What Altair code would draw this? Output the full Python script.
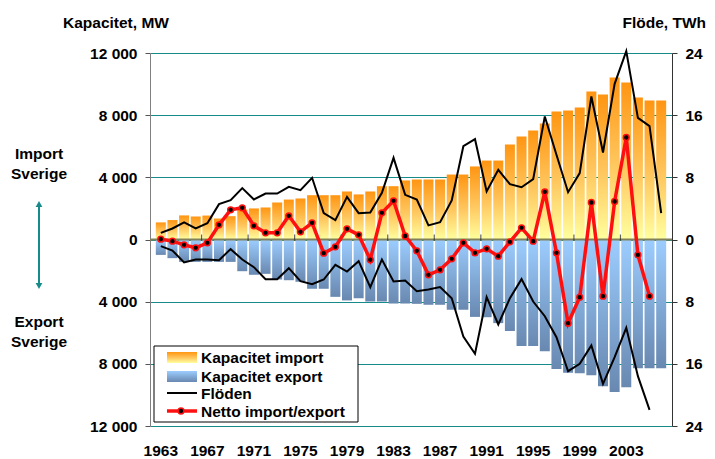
import altair as alt
import pandas as pd

FONT = "Liberation Sans"

years = list(range(1963, 2007))

# Capacity (MW)
cap_import = [1100, 1250, 1550, 1480, 1540, 1350, 1500, 1930, 2000, 2060,
              2380, 2570, 2640, 2850, 2850, 2850, 3090, 2900, 3090, 3430,
              3430, 3800, 3860, 3860, 3860, 4180, 4180, 4700, 5080, 5080,
              6110, 6630, 7010, 7460, 8240, 8300, 8490, 9520, 9330, 10420,
              10100, 9140, 8940, 8940]
cap_export = [990, 1200, 1440, 1440, 1440, 1440, 1440, 2040, 2270, 2210,
              2570, 2620, 2720, 3170, 3170, 3690, 3920, 3780, 3990, 3990,
              4120, 4120, 4140, 4200, 4200, 4520, 4520, 4980, 5000, 5380,
              5880, 6860, 6860, 7190, 8340, 8580, 8600, 8730, 9440, 9820,
              9500, 8280, 8280, 8280]

# Flows (TWh)
flow_import = [0.86, 1.42, 2.19, 1.42, 2.10, 4.55, 5.06, 6.61, 5.15, 5.92,
               5.92, 6.78, 6.35, 7.94, 3.39, 2.49, 5.49, 3.39, 3.47, 6.01,
               10.51, 5.75, 5.15, 1.82, 2.23, 5.02, 12.01, 12.91, 6.18, 8.97,
               7.12, 6.73, 7.76, 15.83, 10.90, 6.09, 8.54, 18.40, 11.20, 20.03,
               24.24, 15.66, 14.59, 3.39]
flow_export = [0.86, 1.42, 2.96, 2.57, 2.57, 2.66, 1.24, 2.57, 3.56, 5.10,
               5.10, 3.69, 5.36, 5.75, 5.15, 3.26, 4.12, 2.79, 6.13, 2.57,
               5.41, 5.28, 6.65, 6.44, 6.13, 7.55, 12.48, 14.71, 7.42, 10.94,
               7.55, 5.10, 7.98, 9.87, 12.57, 16.95, 16.00, 13.64, 18.57, 15.14,
               11.37, 17.59, 21.92, None]
net_flow = [0.04, -0.21, -0.69, -1.07, -0.43, 1.89, 3.82, 4.08, 1.76, 0.86,
            0.86, 3.05, 0.99, 2.15, -1.76, -0.94, 1.37, 0.60, -2.61, 3.43,
            4.98, 0.45, -1.46, -4.55, -3.90, -2.49, -0.43, -1.72, -1.20, -2.15,
            -0.30, 1.50, -0.21, 6.13, -1.72, -10.77, -7.42, 4.76, -7.29, 4.89,
            13.13, -1.97, -7.29, None]

label_years = list(range(1963, 2004, 4))
tick_bounds = [y - 0.5 for y in label_years[1:]]
mw_ticks = [-12000, -8000, -4000, 0, 4000, 8000, 12000]
twh_ticks = [-24, -16, -8, 0, 8, 16, 24]
legend_labels = ["Kapacitet import", "Kapacitet export", "Flöden", "Netto import/export"]

df = pd.DataFrame({
    "year": years,
    "cap_import": cap_import,
    "cap_export": cap_export,
    "flow_import": flow_import,
    "flow_export": flow_export,
    "net": net_flow,
})
ticks_df = pd.DataFrame({"pos": tick_bounds})
labels_df = pd.DataFrame({"yr": label_years})

TEAL = "#178a8a"
grad_imp = {"gradient": "linear", "x1": 0, "y1": 0, "x2": 0, "y2": 1,
            "stops": [{"offset": 0, "color": "#ff9512"},
                      {"offset": 0.55, "color": "#ffc860"},
                      {"offset": 1, "color": "#ffff9e"}]}
grad_exp = {"gradient": "linear", "x1": 0, "y1": 0, "x2": 0, "y2": 1,
            "stops": [{"offset": 0, "color": "#9ccdff"},
                      {"offset": 1, "color": "#6888b0"}]}

xs = alt.Scale(domain=[1962.5, 2006.5], nice=False, zero=False)
ys = alt.Scale(domain=[-12000, 12000], nice=False)
ys2 = alt.Scale(domain=[-24, 24], nice=False)

base = alt.Chart(df)

# Left axis + grid (MW) on the import bars
imp_bars = base.mark_bar(size=10, color=grad_imp).encode(
    x=alt.X("year:Q", scale=xs, axis=None),
    y=alt.Y("cap_import:Q", scale=ys, title=None,
            axis=alt.Axis(orient="left", values=mw_ticks,
                          labelExpr="replace(format(abs(datum.value), ','), ',', ' ')",
                          grid=True, gridColor=TEAL, gridWidth=1,
                          domainColor="#808080", tickColor="#555555",
                          tickSize=5, labelPadding=8)),
)
exp_bars = base.transform_calculate(neg_exp="-datum.cap_export").mark_bar(
    size=10, color=grad_exp).encode(
    x=alt.X("year:Q", scale=xs, axis=None),
    y=alt.Y("neg_exp:Q", scale=ys, axis=None),
)
zero_line = base.transform_filter("datum.year == 1963").transform_calculate(
    zero="0").mark_rule(color="#80805a", strokeWidth=2).encode(
    y=alt.Y("zero:Q", scale=ys, axis=None)
)
zero_ticks = alt.Chart(ticks_df).transform_calculate(zero="0").mark_tick(
    orient="vertical", size=6, thickness=1.2, color="#222222", yOffset=-2).encode(
    x=alt.X("pos:Q", scale=xs, axis=None),
    y=alt.Y("zero:Q", scale=ys, axis=None),
)
# Year labels along the bottom, placed through the x scale
year_labels = alt.Chart(labels_df).mark_text(
    align="center", baseline="alphabetic", font=FONT, fontSize=15.5,
    fontWeight="bold", color="black").encode(
    x=alt.X("yr:Q", scale=xs, axis=None),
    y=alt.value(403),
    text=alt.Text("yr:Q", format="d"),
)

imp_line = base.mark_line(color="black", strokeWidth=2).encode(
    x=alt.X("year:Q", scale=xs, axis=None),
    y=alt.Y("flow_import:Q", scale=ys2, title=None,
            axis=alt.Axis(orient="right", values=twh_ticks,
                          labelExpr="abs(datum.value)", grid=False,
                          domainColor="#333333", tickColor="#333333",
                          tickSize=5, labelPadding=8)),
)
exp_line = base.transform_filter("isValid(datum.flow_export)").transform_calculate(
    neg_flow="-datum.flow_export").mark_line(color="black", strokeWidth=2).encode(
    x=alt.X("year:Q", scale=xs, axis=None),
    y=alt.Y("neg_flow:Q", scale=ys2, axis=None),
)
net_base = base.transform_filter("isValid(datum.net)")
net_line = net_base.mark_line(color="#ff1010", strokeWidth=3.5).encode(
    x=alt.X("year:Q", scale=xs, axis=None),
    y=alt.Y("net:Q", scale=ys2, axis=None),
)
net_pts = net_base.mark_circle(size=34, fill="black", stroke="#ff1010",
                               strokeWidth=1.5, opacity=1).encode(
    x=alt.X("year:Q", scale=xs, axis=None),
    y=alt.Y("net:Q", scale=ys2, axis=None),
)

one = alt.Chart(pd.DataFrame({"k": [0]}))

# Legend
leg_box = one.mark_rect(fill="white", stroke="black", strokeWidth=1).encode(
    x=alt.value(4), x2=alt.value(208), y=alt.value(293), y2=alt.value(369))
sw_imp = one.mark_rect(color=grad_imp).encode(
    x=alt.value(17), x2=alt.value(47), y=alt.value(299), y2=alt.value(310))
sw_exp = one.mark_rect(color=grad_exp).encode(
    x=alt.value(17), x2=alt.value(47), y=alt.value(318), y2=alt.value(329))
sw_flow = one.mark_rule(color="black", strokeWidth=2).encode(
    x=alt.value(17), x2=alt.value(47), y=alt.value(340))
sw_net = one.mark_rule(color="#ff1010", strokeWidth=3.5).encode(
    x=alt.value(17), x2=alt.value(47), y=alt.value(358))
sw_net_pt = one.mark_circle(size=34, fill="black", stroke="#ff1010",
                            strokeWidth=1.5, opacity=1).encode(
    x=alt.value(31), y=alt.value(358))
leg_texts = []
for lab, yy in zip(legend_labels, [310, 328.5, 346, 364]):
    leg_texts.append(one.mark_text(text=lab, align="left", baseline="alphabetic",
                                   font=FONT, fontSize=15.5, fontWeight="bold",
                                   color="black").encode(
        x=alt.value(51), y=alt.value(yy)))

# Titles and side annotations
t_left = one.mark_text(text="Kapacitet, MW", align="left", baseline="alphabetic",
                       font=FONT, fontSize=15.5, fontWeight="bold").encode(
    x=alt.value(-87), y=alt.value(-25))
t_right = one.mark_text(text="Flöde, TWh", align="right", baseline="alphabetic",
                        font=FONT, fontSize=15.5, fontWeight="bold").encode(
    x=alt.value(556), y=alt.value(-25))
ann = []
for txt, yy in [("Import", 106), ("Sverige", 126), ("Export", 273.5), ("Sverige", 294)]:
    ann.append(one.mark_text(text=txt, align="center", baseline="alphabetic",
                             font=FONT, fontSize=15.5, fontWeight="bold").encode(
        x=alt.value(-111), y=alt.value(yy)))
arrow_line = one.mark_rule(color=TEAL, strokeWidth=2).encode(
    x=alt.value(-111), y=alt.value(152), y2=alt.value(232))
arrow_up = one.mark_point(shape="triangle-up", filled=True, color=TEAL,
                          size=45, opacity=1).encode(x=alt.value(-111), y=alt.value(151))
arrow_dn = one.mark_point(shape="triangle-down", filled=True, color=TEAL,
                          size=45, opacity=1).encode(x=alt.value(-111), y=alt.value(233))

chart = alt.layer(
    imp_bars, exp_bars, zero_line, zero_ticks, year_labels,
    imp_line, exp_line, net_line, net_pts,
    leg_box, sw_imp, sw_exp, sw_flow, sw_net, sw_net_pt,
    *leg_texts, t_left, t_right, *ann, arrow_line, arrow_up, arrow_dn
).resolve_scale(y="independent").properties(
    width=522, height=373,
    padding={"left": 142, "top": 45, "right": 35, "bottom": 32},
    autosize=alt.AutoSizeParams(type="none"),
).configure_view(stroke=None).configure_axis(
    labelFont=FONT, labelFontSize=15.5, labelFontWeight="bold", labelColor="black"
)

chart.save("out.html", embed_options={"renderer": "svg", "actions": False})
